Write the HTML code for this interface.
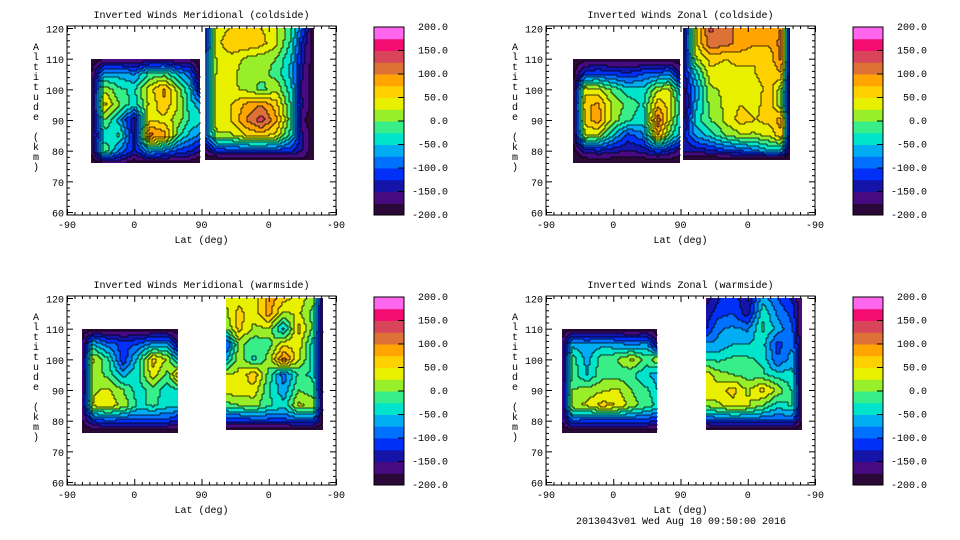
<!DOCTYPE html>
<html><head><meta charset="utf-8">
<style>
body{margin:0;background:#fff;}
svg{display:block;font-family:"Liberation Mono","DejaVu Sans Mono",monospace;}
text{font-size:10px;fill:#000;}
</style></head>
<body>
<svg id="chart" width="960" height="540" viewBox="0 0 960 540"></svg>
<script>
// ---- data ----
const levelColors=['#2a0838','#480a80','#1414a8','#0030f8','#0070ff','#00acf2','#00e4cc','#38ee88','#98ee28','#e8f000','#ffd000','#ffa400','#de7236','#d8445a','#f40c70','#ff66ee'];
const colorbarTicks=['200.0','150.0','100.0','50.0','0.0','-50.0','-100.0','-150.0','-200.0'];
const xTickLabels=['-90','0','90','0','-90'];
const panelTitles=['Inverted Winds Meridional (coldside)','Inverted Winds Zonal (coldside)','Inverted Winds Meridional (warmside)','Inverted Winds Zonal (warmside)'];

// panel 1 left
const p1LLat=[32,50,70,90,110,130,150,165,178];
const p1LAlt=[110,105,100,95,90,85,80,76];
const p1LVal=[
[-190,-180,-180,-180,-180,-180,-180,-180,-190],
[-180,-60,-60,-80,-20,-10,-60,-90,-180],
[-180,20,-20,-30,40,80,10,-50,-150],
[-180,60,0,-40,30,70,20,-40,-60],
[-180,0,-60,-150,50,40,10,-30,-40],
[-180,-40,-20,-140,110,90,-20,-60,-80],
[-180,0,-80,-130,-60,-80,-110,-120,-150],
[-200,-180,-170,-190,-190,-190,-190,-190,-200]];
// panel 1 right
const p1RLat=[185,200,220,240,260,280,300,315,330];
const p1RAlt=[120,115,110,105,100,95,90,85,80,77];
const p1RVal=[
[-120,40,50,60,50,30,-20,-100,-190],
[-120,40,70,70,60,30,-30,-130,-190],
[-100,30,40,20,10,0,-50,-140,-190],
[-100,30,40,0,10,-10,-60,-150,-190],
[-100,40,30,20,-10,20,-40,-160,-190],
[-90,40,50,80,100,60,-30,-150,-190],
[-90,40,50,100,140,80,-20,-170,-190],
[-100,20,20,50,60,40,-40,-150,-190],
[-160,-120,-110,-110,-110,-110,-120,-150,-190],
[-200,-200,-200,-200,-200,-200,-200,-180,-200]];
// panel 2 left
const p2LLat=[36,52,70,90,110,130,150,165,179];
const p2LAlt=[110,105,100,95,90,85,80,76];
const p2LVal=[
[-190,-190,-190,-190,-190,-190,-190,-190,-190],
[-190,-110,-100,-110,-120,-100,-90,-80,-150],
[-180,40,30,-10,-40,-40,20,30,-60],
[-180,70,80,20,-10,-30,70,40,-30],
[-180,60,90,10,-20,-40,120,30,-40],
[-180,30,20,-50,-110,-80,80,-10,-60],
[-190,-140,-130,-140,-150,-140,-110,-130,-160],
[-200,-200,-200,-200,-200,-200,-200,-200,-200]];
// panel 2 right
const p2RLat=[183,200,220,240,260,280,300,315,327];
const p2RAlt=[120,115,110,105,100,95,90,85,80,77];
const p2RVal=[
[-160,40,130,110,90,80,90,100,-190],
[-150,40,120,110,90,80,80,110,-190],
[-150,20,60,50,60,50,60,110,-190],
[-150,-40,40,40,40,50,60,70,-190],
[-160,-70,20,30,30,40,60,10,-190],
[-180,-60,10,30,50,40,70,0,-190],
[-160,-40,0,30,60,50,60,90,-190],
[-140,-70,-40,0,20,20,30,70,-190],
[-140,-140,-130,-110,-100,-80,-50,-60,-190],
[-200,-200,-200,-200,-200,-200,-200,-200,-200]];
// panel 3 left
const p3LLat=[20,35,55,75,95,115,135,149];
const p3LAlt=[110,105,100,95,90,85,80,76];
const p3LVal=[
[-190,-190,-190,-190,-190,-190,-190,-190],
[-180,-50,-90,-110,-100,-70,-70,-150],
[-180,30,-20,-120,-40,60,20,-60],
[-180,20,-10,-60,-30,40,-10,70],
[-180,20,30,0,-40,-10,-40,-30],
[-180,30,40,20,-30,-20,-40,-40],
[-180,-120,-100,-110,-110,-110,-110,-130],
[-200,-200,-200,-200,-200,-200,-200,-200]];
// panel 3 right
const p3RLat=[213,230,250,270,290,310,330,343];
const p3RAlt=[120,115,110,105,100,95,90,85,80,77];
const p3RVal=[
[30,40,30,90,60,40,10,-180],
[20,60,30,90,20,30,-10,-180],
[0,60,20,20,-60,60,-10,-180],
[-110,10,-20,-10,40,40,-40,-180],
[-60,20,-30,10,110,30,-40,-180],
[30,30,70,-10,-90,-20,-30,-180],
[40,40,40,-20,-70,0,-20,-180],
[-10,0,10,-20,-40,30,20,-180],
[-120,-120,-110,-110,-110,-100,-100,-180],
[-200,-200,-200,-200,-200,-200,-200,-200]];
// panel 4 left
const p4LLat=[21,35,55,75,95,115,135,149];
const p4LAlt=[110,105,100,95,90,85,80,76];
const p4LVal=[
[-190,-190,-190,-190,-190,-190,-190,-190],
[-180,-60,-70,-60,-70,-80,-70,-150],
[-180,-10,-60,-10,0,30,-10,20],
[-180,-10,-50,-10,-10,-20,-50,-60],
[-180,0,10,20,30,0,-20,-50],
[-180,20,30,60,50,10,-10,-30],
[-180,-100,-110,-110,-110,-110,-110,-130],
[-200,-200,-200,-200,-200,-200,-200,-200]];
// panel 4 right
const p4RLat=[214,230,250,270,290,310,330,343];
const p4RAlt=[120,115,110,105,100,95,90,85,80,77];
const p4RVal=[
[-160,-130,-110,-150,-60,-100,-130,-180],
[-140,-110,-100,-140,-30,-80,-110,-180],
[-130,-80,-70,-80,-20,-60,-100,-180],
[-70,-70,-50,-50,-40,-110,-80,-180],
[-30,-30,-20,-20,-30,-100,-60,-180],
[40,10,0,-10,-20,-40,-40,-180],
[50,40,60,20,60,20,-30,-180],
[10,20,40,30,0,-40,-20,-180],
[-110,-100,-100,-100,-100,-100,-100,-180],
[-200,-200,-200,-200,-200,-200,-200,-200]];

const panels=[
 {x0:67,top:28,blocks:[[p1LLat,p1LAlt,p1LVal],[p1RLat,p1RAlt,p1RVal]]},
 {x0:546,top:28,blocks:[[p2LLat,p2LAlt,p2LVal],[p2RLat,p2RAlt,p2RVal]]},
 {x0:67,top:298,blocks:[[p3LLat,p3LAlt,p3LVal],[p3RLat,p3RAlt,p3RVal]]},
 {x0:546,top:298,blocks:[[p4LLat,p4LAlt,p4LVal],[p4RLat,p4RAlt,p4RVal]]}];

const NS='http://www.w3.org/2000/svg';
const svg=document.getElementById('chart');
function mk(tag,attrs,parent){const e=document.createElementNS(NS,tag);for(const k in attrs)e.setAttribute(k,attrs[k]);(parent||svg).appendChild(e);return e;}
const W=269, PXKM=3.067;

function seg(arr,v){
  for(let i=0;i<arr.length-1;i++){const a=arr[i],b=arr[i+1];
    if((v>=Math.min(a,b))&&(v<=Math.max(a,b))){return [i,(v-a)/(b-a)];}}
  if((arr[1]-arr[0])*(v-arr[0])<0) return [0,0];
  return [arr.length-2,1];
}
function colorFor(v){let k=Math.floor((v+200)/25);if(!(k>=0))k=0;if(k>15)k=15;return k;}

panels.forEach((p,pi)=>{
  const g=mk('g',{});
  
  
  const xOf=u=>p.x0+u/360*W;
  const yOf=a=>p.top+(120-a)*PXKM;
  const uOf=x=>(x-p.x0)/W*360;
  const aOf=y=>120-(y-p.top)/PXKM;
  const field=mk('g',{},g);
  
  
  p.blocks.forEach(([lats,alts,vals])=>{
    const xa=Math.round(xOf(lats[0])), xb=Math.round(xOf(lats[lats.length-1]));
    const ya=Math.round(yOf(alts[0])), yb=Math.round(yOf(alts[alts.length-1]));
    const step=2;
    const grid=[];
    for(let y=ya;y<yb;y+=step){
      const a=aOf(y+step/2);const [ri,rt]=seg(alts,a);
      const row=[];
      for(let x=xa;x<xb;x+=step){
        const u=uOf(x+step/2);const [ci,ct]=seg(lats,u);
        const v00=vals[ri][ci],v01=vals[ri][ci+1],v10=vals[ri+1][ci],v11=vals[ri+1][ci+1];
        const v=(v00*(1-ct)+v01*ct)*(1-rt)+(v10*(1-ct)+v11*ct)*rt;
        row.push(colorFor(v));
      }
      grid.push(row);
    }
    let lines='';
    grid.forEach((row,r)=>{
      const y=ya+r*step;
      let start=0;
      for(let c=1;c<=row.length;c++){
        if(c===row.length||row[c]!==row[start]){
          const x0=xa+start*step, x1=Math.min(xa+c*step,xb);
          const rc=mk('rect',{x:x0,y:y,width:x1-x0,height:step,fill:levelColors[row[start]]},field);
          
          
          start=c;
        }
      }
      row.forEach((k,c)=>{
        const x=xa+c*step;
        if(c>0&&row[c-1]!==k) lines+='M'+x+' '+y+'v'+step;
        if(r>0&&grid[r-1][c]!==k) lines+='M'+x+' '+y+'h'+step;
      });
    });
    const cl=mk('path',{d:lines,stroke:'#000','stroke-width':0.8,fill:'none'},field);
    
    
  });
  const fy0=p.top-2, fy1=p.top+187;
  const fr=mk('rect',{x:p.x0,y:fy0,width:W,height:fy1-fy0,fill:'none',stroke:'#000','stroke-width':1},g);
  
  
  for(let a=60;a<=120;a+=2){
    const y=yOf(a)+0.5, len=(a%10===0)?6:3;
    mk('line',{x1:p.x0,x2:p.x0+len,y1:y,y2:y,stroke:'#000'},g);
    mk('line',{x1:p.x0+W,x2:p.x0+W-len,y1:y,y2:y,stroke:'#000'},g);
    if(a%10===0){const t=mk('text',{x:p.x0-3,y:y+4,'text-anchor':'end'},g);t.textContent=a;
      
      }
  }
  for(let u=0;u<=360;u+=10){
    const x=xOf(u)+0.5,len=(u%90===0)?6:3;
    mk('line',{x1:x,x2:x,y1:fy1,y2:fy1-len,stroke:'#000'},g);
    mk('line',{x1:x,x2:x,y1:fy0,y2:fy0+len,stroke:'#000'},g);
  }
  xTickLabels.forEach((l,i)=>{const t=mk('text',{x:xOf(i*90),y:fy1+13,'text-anchor':'middle'},g);t.textContent=l;
    
    });
  const xt=mk('text',{x:p.x0+W/2,y:fy1+28,'text-anchor':'middle'},g);xt.textContent='Lat (deg)';
  
  
  const tt=mk('text',{x:p.x0+W/2,y:fy0-8,'text-anchor':'middle'},g);tt.textContent=panelTitles[pi];
  
  
  const yt=mk('text',{x:p.x0-31,y:fy0+22,'text-anchor':'middle'},g);
  
  
  'Altitude (km)'.split('').forEach((ch,i)=>{const s=mk('tspan',{x:p.x0-31,y:fy0+24+i*10},yt);s.textContent=ch;});
  const cx=p.x0+307, cw=30, cy0=fy0+1, cy1=fy1;
  const cb=mk('g',{},g);
  
  
  const bh=(cy1-cy0)/16;
  levelColors.forEach((c,i)=>{mk('rect',{x:cx,y:cy1-(i+1)*bh,width:cw,height:bh+0.5,fill:c},cb);});
  mk('rect',{x:cx,y:cy0,width:cw,height:cy1-cy0,fill:'none',stroke:'#000'},cb);
  colorbarTicks.forEach((l,i)=>{const y=cy0+i*(cy1-cy0)/8;
    mk('line',{x1:cx+cw-6,x2:cx+cw,y1:y,y2:y,stroke:'#000'},cb);
    const t=mk('text',{x:cx+74,y:y+3,'text-anchor':'end'},cb);t.textContent=l;
    
    });
});
const ft=mk('text',{x:681,y:524,'text-anchor':'middle'});ft.textContent='2013043v01 Wed Aug 10 09:50:00 2016';


</script>
</body></html>
